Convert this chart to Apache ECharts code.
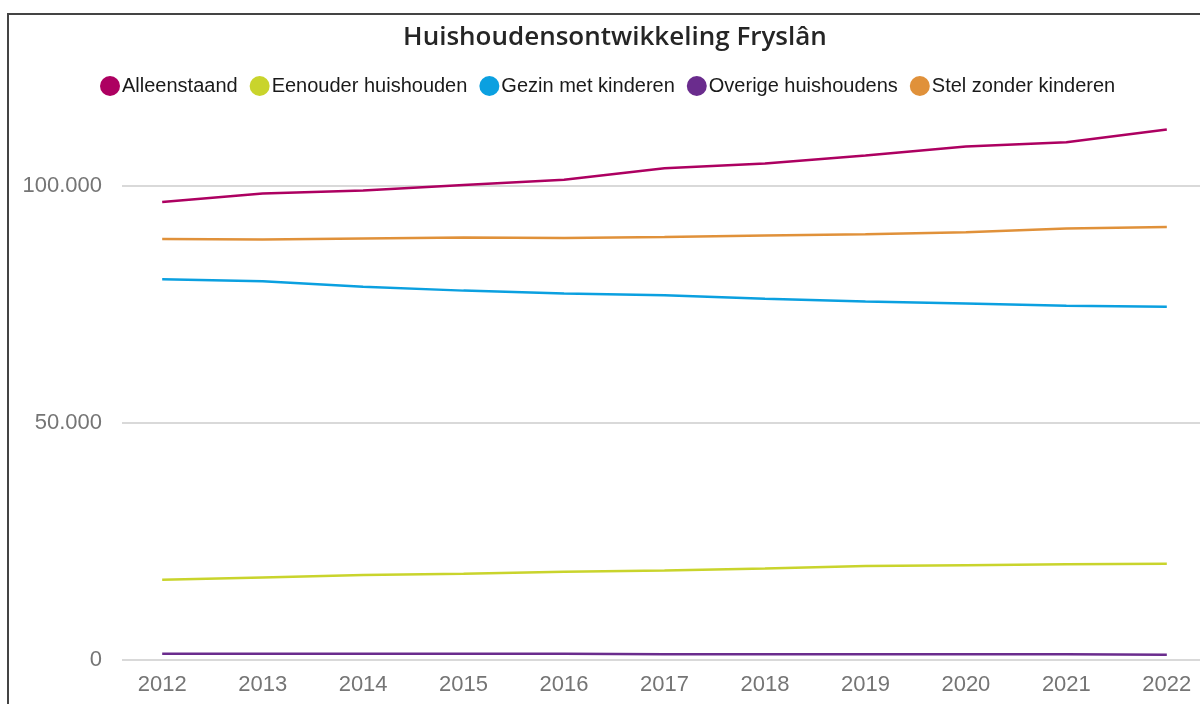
<!DOCTYPE html>
<html>
<head>
<meta charset="utf-8">
<title>Huishoudensontwikkeling Fryslân</title>
<script src="https://cdn.jsdelivr.net/npm/echarts@6/dist/echarts.min.js"></script>
<style>
  html, body { margin: 0; padding: 0; background: #fff; }
  #myChart { width: 1200px; height: 704px; }
</style>
</head>
<body>
<div id="myChart"></div>
<script>
// jaren en aantallen huishoudens per type
const years = [2012, 2013, 2014, 2015, 2016, 2017, 2018, 2019, 2020, 2021, 2022]
const alleenstaand = [96600, 98400, 99000, 100200, 101300, 103700, 104700, 106400, 108300, 109200, 111900]
const eenouder = [16900, 17400, 17900, 18200, 18600, 18900, 19300, 19800, 20000, 20200, 20300]
const gezin = [80300, 79900, 78700, 77900, 77300, 76900, 76200, 75600, 75200, 74700, 74500]
const overige = [1300, 1300, 1300, 1300, 1300, 1200, 1200, 1200, 1200, 1200, 1100]
const stel = [88800, 88700, 88900, 89100, 89000, 89200, 89500, 89800, 90200, 91000, 91300]

const seriesNames = ['Alleenstaand', 'Eenouder huishouden', 'Gezin met kinderen', 'Overige huishoudens', 'Stel zonder kinderen']
const seriesColors = ['#ad0061', '#c9d42c', '#0ba0e0', '#6a2c8d', '#e0913a']
const seriesValues = [alleenstaand, eenouder, gezin, overige, stel]

const labelFont = "'Liberation Sans', Arial, sans-serif"

function thousands(v) {
  return String(v).replace(/\B(?=(\d{3})+(?!\d))/g, '.')
}

const myChartInstance = echarts.init(document.getElementById('myChart'), null, { renderer: 'canvas' })

const option = {
  animation: false,
  backgroundColor: '#fff',
  graphic: [
    {
      type: 'rect',
      shape: { x: 8, y: 14, width: 1260, height: 800 },
      style: { fill: 'none', stroke: '#444', lineWidth: 2 },
      silent: true
    }
  ],
  title: {
    text: 'Huishoudensontwikkeling Fryslân',
    left: 610,
    textAlign: 'center',
    top: 20,
    textStyle: {
      fontFamily: "'Open Sans', 'Noto Sans', sans-serif",
      fontWeight: 600,
      fontSize: 26,
      color: '#252525'
    }
  },
  legend: {
    left: 100,
    top: 76,
    padding: 0,
    icon: 'circle',
    itemWidth: 20,
    itemHeight: 20,
    itemGap: 12,
    textStyle: {
      fontFamily: labelFont,
      fontSize: 20,
      color: '#1a1a1a',
      padding: [0, 0, 0, -3]
    },
    data: seriesNames
  },
  grid: {
    left: 122,
    right: -7,
    top: 91,
    bottom: 44,
    containLabel: false,
    outerBoundsMode: 'none'
  },
  xAxis: {
    type: 'value',
    min: 2011.6,
    max: 2022.4,
    axisLine: { show: false },
    axisTick: { show: false },
    splitLine: { show: false },
    axisLabel: {
      margin: 14,
      fontFamily: labelFont,
      fontSize: 22,
      color: '#757575',
      customValues: years,
      formatter: function (v) {
        return String(Math.round(v))
      }
    }
  },
  yAxis: {
    type: 'value',
    min: 0,
    max: 120000,
    interval: 50000,
    axisLine: { show: false },
    axisTick: { show: false },
    splitLine: {
      show: true,
      showMaxLine: false,
      lineStyle: { color: '#d9d9d9', width: 2 }
    },
    axisLabel: {
      margin: 20,
      fontFamily: labelFont,
      fontSize: 22,
      color: '#757575',
      showMaxLabel: false,
      formatter: function (v) {
        return v % 50000 === 0 ? thousands(v) : ''
      }
    }
  },
  series: seriesNames.map(function (name, i) {
    return {
      name: name,
      type: 'line',
      symbol: 'none',
      smooth: false,
      color: seriesColors[i],
      lineStyle: { width: 2.5, color: seriesColors[i] },
      data: years.map(function (y, j) { return [y, seriesValues[i][j]] })
    }
  })
}

myChartInstance.setOption(option)
</script>
</body>
</html>
